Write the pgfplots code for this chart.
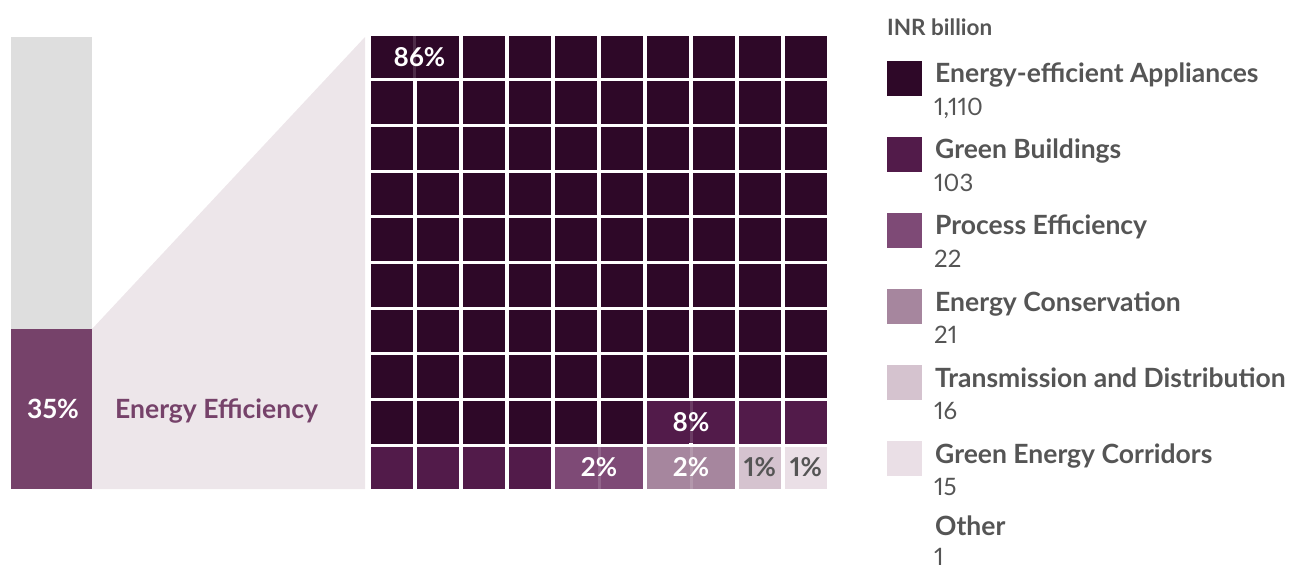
\documentclass[border=0pt]{standalone}
\usepackage{pgfplots}
\pgfplotsset{compat=1.18}
\usepackage{fontspec}
\setmainfont{Lato}[Numbers=Proportional]
\definecolor{cDark}{HTML}{2E0828}
\definecolor{cGB}{HTML}{521B4A}
\definecolor{cPE}{HTML}{7E4A76}
\definecolor{cEC}{HTML}{A6869E}
\definecolor{cTD}{HTML}{D5C3CF}
\definecolor{cGEC}{HTML}{EADFE6}
\definecolor{cBar}{HTML}{76426A}
\definecolor{cGrey}{HTML}{DEDEDE}
\definecolor{cFun}{HTML}{EDE6EA}
\definecolor{cTxt}{HTML}{555555}
\tikzset{
  lt/.style={anchor=base west, inner sep=0pt, font=\fontsize{26.5}{30}\selectfont\bfseries, text=cTxt},
  ln/.style={anchor=base west, inner sep=0pt, font=\fontsize{24}{28}\selectfont, text=cTxt},
  wl/.style={anchor=base, inner sep=0pt, font=\fontsize{26}{30}\selectfont\bfseries, text=white},
  box/.style={fill=#1, minimum width=88pt, minimum height=42pt, inner sep=0pt},
  seam/.style={fill=white, fill opacity=0.15, minimum width=3pt, minimum height=42pt, inner sep=0pt},
}
\pgfplotsset{
  cell/.style={only marks, mark=square*, mark size=20.8pt, mark options={draw=#1, fill=#1}},
  legsq/.style={only marks, mark=square*, mark size=17.3pt, mark options={draw=#1, fill=#1}},
}
\begin{document}
\begin{tikzpicture}
\begin{axis}[
  width=1290pt, height=569pt, scale only axis,
  xmin=0, xmax=1290, ymin=0, ymax=569, y dir=reverse,
  hide axis, clip=false,
]
\path (rel axis cs:0,0) rectangle (rel axis cs:1,1);
% left bar: 65% grey, 35% Energy Efficiency (100% = 452 px from y=37 to y=489)
\addplot[fill=cGrey, draw=none, mark=none] coordinates {(11,37) (92,37) (92,329) (11,329)} -- cycle;
\addplot[fill=cBar, draw=none, mark=none] coordinates {(11,329) (92,329) (92,489) (11,489)} -- cycle;
% funnel
\addplot[fill=cFun, draw=none, mark=none] coordinates {(92,489) (92,329) (365,37) (365,489)} -- cycle;
\node[anchor=base, inner sep=0pt, font=\fontsize{26.5}{30}\selectfont\bfseries, text=white] at (axis cs:53,418) {35\%};
\node[anchor=base west, inner sep=0pt, font=\fontsize{26.5}{30}\selectfont\bfseries, text=cBar] at (axis cs:115,418) {Energy Efficiency};
% waffle cells (c = column, r = row)
\addplot[cell=cDark] table[x expr={391.7+46*(\thisrow{c}-1)}, y expr={56.7+45.67*(\thisrow{r}-1)}] {
c r
1 1
2 1
3 1
4 1
5 1
6 1
7 1
8 1
9 1
10 1
1 2
2 2
3 2
4 2
5 2
6 2
7 2
8 2
9 2
10 2
1 3
2 3
3 3
4 3
5 3
6 3
7 3
8 3
9 3
10 3
1 4
2 4
3 4
4 4
5 4
6 4
7 4
8 4
9 4
10 4
1 5
2 5
3 5
4 5
5 5
6 5
7 5
8 5
9 5
10 5
1 6
2 6
3 6
4 6
5 6
6 6
7 6
8 6
9 6
10 6
1 7
2 7
3 7
4 7
5 7
6 7
7 7
8 7
9 7
10 7
1 8
2 8
3 8
4 8
5 8
6 8
7 8
8 8
9 8
10 8
1 9
2 9
3 9
4 9
5 9
6 9
};
\addplot[cell=cGB] table[x expr={391.7+46*(\thisrow{c}-1)}, y expr={56.7+45.67*(\thisrow{r}-1)}] {
c r
7 9
8 9
9 9
10 9
1 10
2 10
3 10
4 10
};
\addplot[cell=cPE] table[x expr={391.7+46*(\thisrow{c}-1)}, y expr={56.7+45.67*(\thisrow{r}-1)}] {
c r
5 10
6 10
};
\addplot[cell=cEC] table[x expr={391.7+46*(\thisrow{c}-1)}, y expr={56.7+45.67*(\thisrow{r}-1)}] {
c r
7 10
8 10
};
\addplot[cell=cTD] table[x expr={391.7+46*(\thisrow{c}-1)}, y expr={56.7+45.67*(\thisrow{r}-1)}] {
c r
9 10
};
\addplot[cell=cGEC] table[x expr={391.7+46*(\thisrow{c}-1)}, y expr={56.7+45.67*(\thisrow{r}-1)}] {
c r
10 10
};
% anchors for the merged label boxes
\coordinate (b86) at (axis cs:414.7,56.7);
\coordinate (t86) at (axis cs:419.5,66.7);
\coordinate (b8) at (axis cs:691,421.7);
\coordinate (t8) at (axis cs:691,431.7);
\coordinate (b2a) at (axis cs:599,467.7);
\coordinate (t2a) at (axis cs:599,477);
\coordinate (b2b) at (axis cs:691,467.7);
\coordinate (t2b) at (axis cs:691,477);
\coordinate (t1a) at (axis cs:760,477);
\coordinate (t1b) at (axis cs:806,477);
% legend
\node[anchor=base west, inner sep=0pt, font=\fontsize{22.5}{26}\selectfont\bfseries, text=cTxt] at (axis cs:887,36) {INR billion};
\addplot[legsq=cDark] coordinates {(904.2,78.3)};
\addplot[legsq=cGB] coordinates {(904.2,154.3)};
\addplot[legsq=cPE] coordinates {(904.2,230.3)};
\addplot[legsq=cEC] coordinates {(904.2,306.3)};
\addplot[legsq=cTD] coordinates {(904.2,382.3)};
\addplot[legsq=cGEC] coordinates {(904.2,458.3)};
\node[lt] at (axis cs:935,83) {Energy-efficient Appliances};
\node[ln] at (axis cs:934,115.5) {1,110};
\node[lt] at (axis cs:935,159) {Green Buildings};
\node[ln] at (axis cs:934,191.5) {103};
\node[lt] at (axis cs:935,235) {Process Efficiency};
\node[ln] at (axis cs:934,267.5) {22};
\node[lt] at (axis cs:935,311) {Energy Conservation};
\node[ln] at (axis cs:934,343.5) {21};
\node[lt] at (axis cs:935,387) {Transmission and Distribution};
\node[ln] at (axis cs:934,419.5) {16};
\node[lt] at (axis cs:935,463) {Green Energy Corridors};
\node[ln] at (axis cs:934,495.5) {15};
\node[lt] at (axis cs:935,535) {Other};
\node[ln] at (axis cs:934,565.5) {1};
\end{axis}
% percentage labels over the waffle
\node[box=cDark] at (b86) {};
\node[seam] at (b86) {};
\node[wl] at (t86) {86\%};
\node[box=cGB] at (b8) {};
\node[seam] at (b8) {};
\node[wl] at (t8) {8\%};
\node[box=cPE] at (b2a) {};
\node[seam] at (b2a) {};
\node[wl] at (t2a) {2\%};
\node[box=cEC] at (b2b) {};
\node[seam] at (b2b) {};
\node[wl] at (t2b) {2\%};
\node[wl, text=cTxt] at (t1a) {1\%};
\node[wl, text=cTxt] at (t1b) {1\%};
\end{tikzpicture}
\end{document}
